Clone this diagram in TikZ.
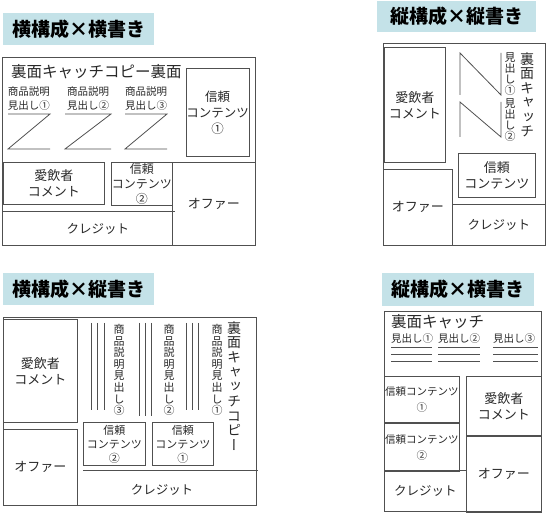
\documentclass[tikz,border=0pt]{standalone}
\usepackage{fontspec}
\setmainfont{Noto Sans CJK JP}
\newfontfamily\tatefont{Noto Sans CJK JP}[RawFeature=+vert]
\usetikzlibrary{positioning}
\definecolor{titleblue}{RGB}{196,226,232}
\definecolor{linegray}{RGB}{80,80,80}
\definecolor{textgray}{RGB}{40,40,40}
\tikzset{
  basic/.style = {draw=linegray, line width=0.8pt},
  title/.style = {fill=titleblue, anchor=north west, inner sep=0pt,
                  minimum height=32pt, font=\bfseries\fontsize{19}{19}\selectfont},
  block/.style = {basic, anchor=north west, inner sep=0pt, align=center,
                  text=textgray, font=\fontsize{13}{16}\selectfont},
  txt/.style   = {inner sep=0pt, align=center, text=textgray,
                  font=\fontsize{12.5}{15}\selectfont},
  tate/.style  = {inner sep=0pt, align=center, text=textgray}
}

\begin{document}
\begin{tikzpicture}[x=1pt, y=-1pt]
\useasboundingbox (0,0) rectangle (550,513);

% top left: horizontal layout, horizontal writing
\node[title, minimum width=151pt] (t1) at (3,13) {横構成×横書き};
\draw[basic] (2,57) rectangle (255,245);
\node[txt, anchor=west, font=\fontsize{15.5}{16}\selectfont] (catch1) at (11,72) {裏面キャッチコピー裏面};
\node[block, minimum width=62pt, minimum height=88pt, font=\fontsize{12.5}{16}\selectfont] (trust11) at (186,68) {信頼\\コンテンツ\\①};
\foreach \xa/\xb/\n/\m in {8/50/1/①, 65/111/2/②, 125/167/3/③}
{
  \node[txt, font=\fontsize{10.5}{14}\selectfont] (head1\n) at ({(\xa+\xb)/2},99) {商品説明\\見出し\m};
  \draw[basic] (\xa,114) -- (\xb,114) -- (\xa,149) -- (\xb,149);
}
\node[block, minimum width=101pt, minimum height=42pt] (fan1) at (3,162) {愛飲者\\コメント};
\node[block, minimum width=61pt, minimum height=43pt, font=\fontsize{12}{15}\selectfont] (trust12) at (111,162) {信頼\\コンテンツ\\②};
\node[block, minimum width=83pt, minimum height=83pt] (offer1) at (172,162) {オファー};
\draw[basic] (2,211) -- (175,211);
\node[txt] (credit1) at (98,229) {クレジット};

% top right: vertical layout, vertical writing
\node[title, minimum width=159pt, minimum height=31pt] (t2) at (377,1) {縦構成×縦書き};
\draw[basic] (383,43) rectangle (545,245);
\node[block, minimum width=61pt, minimum height=115pt] (fan2) at (384,47) {愛飲者\\コメント};
\node[block, minimum width=69pt, minimum height=76pt] (offer2) at (383,169) {オファー};
\node[block, minimum width=93pt, minimum height=41pt, font=\fontsize{12.5}{15}\selectfont] (credit2) at (452,204) {クレジット};
\node[block, minimum width=77pt, minimum height=44pt] (trust2) at (458,153) {信頼\\コンテンツ};
\foreach \ya/\yb in {53/95, 102/137}
  \draw[basic] (460,\yb) -- (460,\ya) -- (501,\yb) -- (501,\ya);
\node[tate, font=\tatefont\fontsize{11}{11}\selectfont] (head21) at (510,74) {見\\出\\し\\①};
\node[tate, font=\tatefont\fontsize{11}{11}\selectfont] (head22) at (510,120) {見\\出\\し\\②};
\node[tate, font=\tatefont\fontsize{14}{14.5}\selectfont] (catch2) at (527,95) {裏\\面\\キ\\ャ\\ッ\\チ};

% bottom left: horizontal layout, vertical writing
\node[title, minimum width=151pt] (t3) at (3,273) {横構成×縦書き};
\draw[basic] (3,317) rectangle (256,505);
\node[block, minimum width=74pt, minimum height=103pt] (fan3) at (3,319) {愛飲者\\コメント};
\node[block, minimum width=74pt, minimum height=76pt] (offer3) at (3,429) {オファー};
\node[block, minimum width=62pt, minimum height=43pt, font=\fontsize{11}{14}\selectfont] (trust32) at (83,422) {信頼\\コンテンツ\\②};
\node[block, minimum width=61pt, minimum height=43pt, font=\fontsize{11}{14}\selectfont] (trust31) at (152,422) {信頼\\コンテンツ\\①};
\draw[basic] (83,470) -- (258,470);
\node[txt] (credit3) at (162,490) {クレジット};
\foreach \x/\yb in {91/410, 97/410, 104/410, 139/416, 145/416, 151/416, 186/410, 192/410, 198/410}
  \draw[basic] (\x,323) -- (\x,\yb);
\foreach \x/\n/\m in {217/1/①, 169/2/②, 119/3/③}
  \node[tate, font=\tatefont\fontsize{11}{11.6}\selectfont] (head3\n) at (\x,370) {商\\品\\説\\明\\見\\出\\し\\\m};
\node[tate, font=\tatefont\fontsize{14}{14.7}\selectfont] (catch3) at (234,386) {裏\\面\\キ\\ャ\\ッ\\チ\\コ\\ピ\\ー};

% bottom right: vertical layout, horizontal writing
\node[title, minimum width=152pt, minimum height=33pt] (t4) at (382,273) {縦構成×横書き};
\draw[basic] (384,311) rectangle (541,511);
\node[txt, anchor=west, font=\fontsize{15.5}{16}\selectfont] (catch4) at (391,322) {裏面キャッチ};
\foreach \xa/\xb/\n/\m in {391/432/1/①, 438/480/2/②, 493/538/3/③}
{
  \node[txt, anchor=west, font=\fontsize{10.5}{11}\selectfont] (head4\n) at (\xa,339) {見出し\m};
  \foreach \y in {347,354,361}
    \draw[basic] (\xa,\y) -- (\xb,\y);
}
\node[block, minimum width=75pt, minimum height=46pt, font=\fontsize{10.5}{16}\selectfont] (trust41) at (384,376) {信頼コンテンツ\\①};
\node[block, minimum width=75pt, minimum height=48pt, font=\fontsize{10.5}{16}\selectfont, below=0pt of trust41] (trust42) {信頼コンテンツ\\②};
\node[block, minimum width=82pt, minimum height=41pt, font=\fontsize{12.5}{15}\selectfont] (credit4) at (384,470) {クレジット};
\node[block, minimum width=75pt, minimum height=59pt] (fan4) at (466,376) {愛飲者\\コメント};
\node[block, minimum width=75pt, minimum height=76pt, below=0pt of fan4] (offer4) {オファー};
\end{tikzpicture}
\end{document}
